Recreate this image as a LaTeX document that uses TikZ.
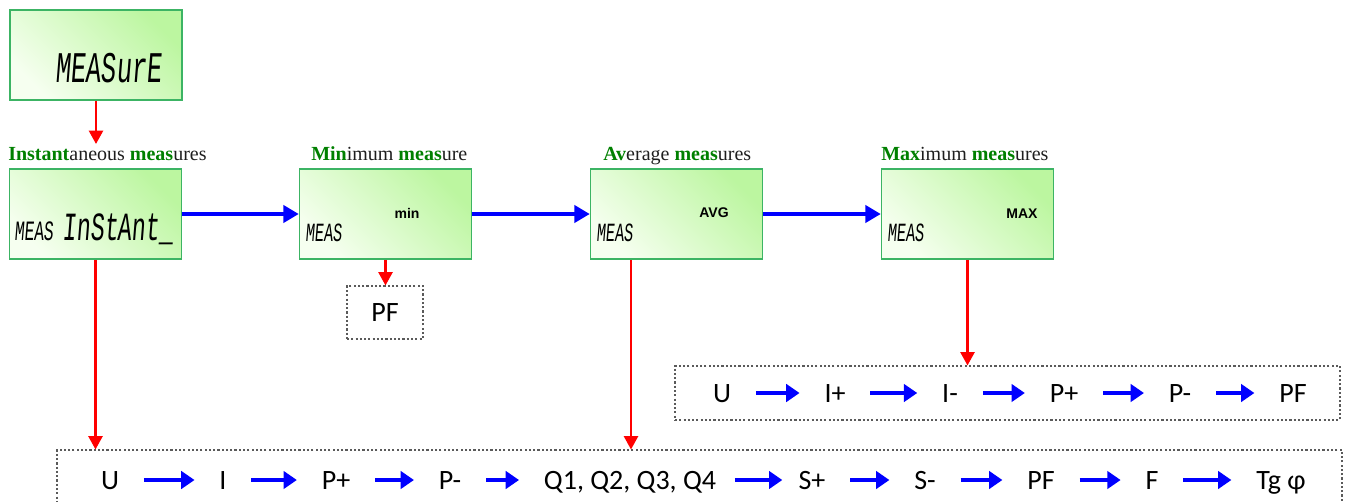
\documentclass[tikz,border=0pt]{standalone}
\usepackage{fontspec}
\setmainfont{Liberation Serif}
\newfontfamily\calib{Carlito}
\newfontfamily\lcd[FakeStretch=0.58,FakeSlant=0.08]{Liberation Mono}
\newfontfamily\arialf{Liberation Sans}
\usetikzlibrary{arrows.meta,calc}
\definecolor{boxborder}{RGB}{60,180,100}
\definecolor{boxlight}{RGB}{246,255,240}
\definecolor{boxdark}{RGB}{188,246,160}
\definecolor{lblgreen}{RGB}{0,128,0}
\definecolor{lbltext}{RGB}{30,30,30}
\definecolor{dashgray}{RGB}{90,90,90}
\begin{document}
\begin{tikzpicture}[x=0.75pt,y=-0.75pt,
  lcdbox/.style={draw=boxborder,line width=1.2pt,top color=boxdark,bottom color=boxlight,shading angle=-45,minimum width=129pt,minimum height=67.5pt,inner sep=0pt},
  lcdtext/.style={inner sep=0pt,text=black},
  tag/.style={inner sep=0pt,font=\arialf\bfseries\fontsize{10.5}{12}\selectfont},
  lbl/.style={inner sep=0pt,anchor=base west,text=lbltext,font=\fontsize{15}{18}\selectfont},
  dbox/.style={draw=dashgray,line width=0.8pt,dash pattern=on 1.6pt off 1.6pt,inner sep=0pt},
  item/.style={inner sep=0pt,text height=13.5pt,text depth=0pt,font=\calib\fontsize{21}{24}\selectfont},
  redarrow/.style={draw=red,line width=1.8pt,-{Triangle[length=10pt,width=10.5pt]}},
  bluearrow/.style={draw=blue,line width=2.3pt,-{Triangle[length=11.5pt,width=13pt]}},
  listarrow/.style={draw=blue,line width=3pt,-{Triangle[length=10pt,width=13pt]},shorten <=18.5pt,shorten >=18.5pt}
]
\useasboundingbox (0,0) rectangle (1347,501);
\clip (0,0) rectangle (1347,501);

% LCD boxes
\node[lcdbox] (measure) at (96,55) {};
\node[lcdtext,anchor=base west,font=\lcd\fontsize{32.8}{36}\selectfont] (measuretxt) at (55,82) {MEASurE};

\node[lcdbox] (instant) at (95.5,214) {};
\node[lcdtext,anchor=base west,font=\lcd\fontsize{21}{24}\selectfont] (insmeas) at (14,240) {MEAS};
\node[lcdtext,anchor=base west,font=\lcd\fontsize{30}{34}\selectfont] (instxt) at (62,240) {InStAnt\_};

\node[lcdbox] (min) at (385.5,214) {};
\node[lcdtext,anchor=base west,font=\lcd\fontsize{19.7}{22}\selectfont] (minmeas) at (305,241) {MEAS};
\node[tag] (mintag) at (407,213) {min};

\node[lcdbox] (avg) at (676.5,214) {};
\node[lcdtext,anchor=base west,font=\lcd\fontsize{19.7}{22}\selectfont] (avgmeas) at (596,241) {MEAS};
\node[tag] (avgtag) at (714,213) {AVG};

\node[lcdbox] (max) at (967.5,214) {};
\node[lcdtext,anchor=base west,font=\lcd\fontsize{19.7}{22}\selectfont] (maxmeas) at (887,241) {MEAS};
\node[tag] (maxtag) at (1022,214) {MAX};

% labels
\node[lbl] (lblinst) at (8,160) {\textcolor{lblgreen}{\bfseries Instant}aneous \textcolor{lblgreen}{\bfseries meas}ures};
\node[lbl] (lblmin) at (311,160) {\textcolor{lblgreen}{\bfseries Min}imum \textcolor{lblgreen}{\bfseries meas}ure};
\node[lbl] (lblavg) at (603,160) {\textcolor{lblgreen}{\bfseries Av}erage \textcolor{lblgreen}{\bfseries meas}ures};
\node[lbl] (lblmax) at (881,160) {\textcolor{lblgreen}{\bfseries Max}imum \textcolor{lblgreen}{\bfseries meas}ures};

% dashed boxes
\node[dbox,minimum width=57pt,minimum height=39.75pt] (pfbox) at (385,312.5) {};
\node[item] (pftxt) at (385,312.5) {PF};
\node[dbox,minimum width=498.75pt,minimum height=40.5pt] (maxlist) at (1007.5,393) {};
\node[dbox,minimum width=963.75pt,minimum height=60pt] (biglist) at (699.5,490) {};

% max list items
\node[item] (xu) at (722,393) {U};
\node[item] (xip) at (835,393) {I+};
\node[item] (xim) at (950,393) {I-};
\node[item] (xpp) at (1064,393) {P+};
\node[item] (xpm) at (1180,393) {P-};
\node[item] (xpf) at (1293,393) {PF};
\draw[listarrow] (xu) -- (xip);
\draw[listarrow] (xip) -- (xim);
\draw[listarrow] (xim) -- (xpp);
\draw[listarrow] (xpp) -- (xpm);
\draw[listarrow] (xpm) -- (xpf);

% instant list items
\node[item] (bu) at (110,480) {U};
\node[item] (bi) at (223,480) {I};
\node[item] (bpp) at (336,480) {P+};
\node[item] (bpm) at (450,480) {P-};
\node[item] (bq) at (630,480) {Q1, Q2, Q3, Q4};
\node[item] (bsp) at (812,480) {S+};
\node[item] (bsm) at (925,480) {S-};
\node[item] (bpf) at (1041,480) {PF};
\node[item] (bf) at (1152,480) {F};
\node[item] (btg) at (1281,480) {Tg φ};
\draw[listarrow] (bu) -- (bi);
\draw[listarrow] (bi) -- (bpp);
\draw[listarrow] (bpp) -- (bpm);
\draw[listarrow] (bpm) -- (bq);
\draw[listarrow,shorten <=14pt,shorten >=12pt] (bq) -- (bsp);
\draw[listarrow] (bsp) -- (bsm);
\draw[listarrow] (bsm) -- (bpf);
\draw[listarrow] (bpf) -- (bf);
\draw[listarrow] (bf) -- (btg);

% red arrows
\draw[redarrow,shorten >=2pt] (measure.south) -- (measure.south |- lblinst.north);
\draw[redarrow] (instant.south) -- (instant.south |- biglist.north);
\draw[redarrow] (min.south) -- (min.south |- pfbox.north);
\coordinate (avgdrop) at ($(avg.south)+(-45.5,0)$);
\draw[redarrow] (avgdrop) -- (avgdrop |- biglist.north);
\draw[redarrow] (max.south) -- (max.south |- maxlist.north);

% blue arrows
\draw[bluearrow] (instant) -- (min);
\draw[bluearrow] (min) -- (avg);
\draw[bluearrow] (avg) -- (max);
\end{tikzpicture}
\end{document}
